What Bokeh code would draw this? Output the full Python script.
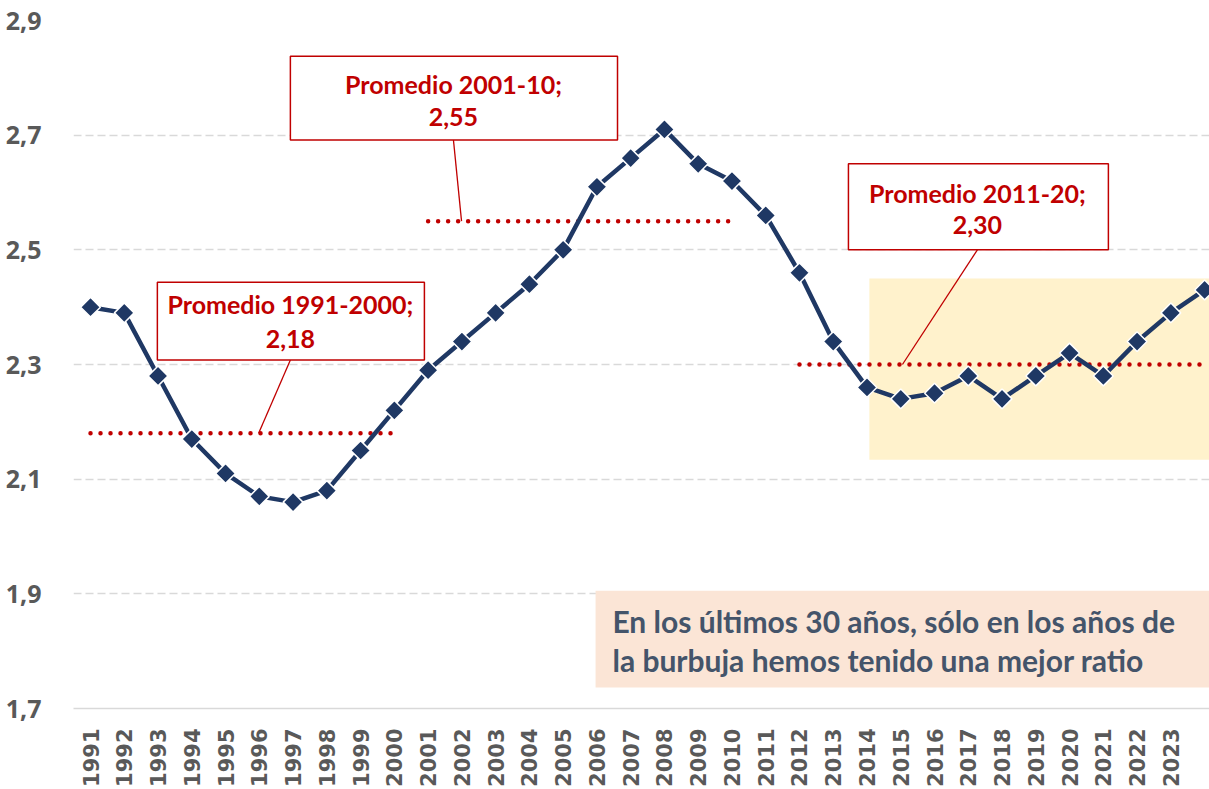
import numpy as np
from bokeh.plotting import figure
from bokeh.models import (Range1d, FixedTicker, CustomJSTickFormatter, BoxAnnotation,
                          Label, ColumnDataSource)
from bokeh.embed import file_html
from bokeh.resources import INLINE

# ---- data ----
years = list(range(1991, 2025))
ratio = [2.40, 2.39, 2.28, 2.17, 2.11, 2.07, 2.06, 2.08, 2.15, 2.22,
         2.29, 2.34, 2.39, 2.44, 2.50, 2.61, 2.66, 2.71, 2.65, 2.62,
         2.56, 2.46, 2.34, 2.26, 2.24, 2.25, 2.28, 2.24, 2.28, 2.32,
         2.28, 2.34, 2.39, 2.43]
x_tick_years = list(range(1991, 2024))
y_ticks = [1.7, 1.9, 2.1, 2.3, 2.5, 2.7, 2.9]

avg_labels = ["Promedio 1991-2000;", "Promedio 2001-10;", "Promedio 2011-20;"]
avg_values = [2.18, 2.55, 2.30]
avg_value_text = ["2,18", "2,55", "2,30"]
avg_start = [1991, 2001, 2012]
avg_end = [2000, 2010, 2024]

note_lines = ["En los últimos 30 años, sólo en los años de",
              "la burbuja hemos tenido una mejor ratio"]

RED = "#C00000"
NAVY = "#1F3864"
GRAY = "#595959"
FONT = "Lato"

p = figure(width=1209, height=789, output_backend="svg", toolbar_location=None,
           x_range=Range1d(1990.496, 2024.145), y_range=Range1d(1.7, 2.9),
           min_border_left=73, min_border_right=0, min_border_top=20,
           min_border_bottom=78)
p.outline_line_color = None
p.background_fill_color = "white"

# axes
p.xaxis.ticker = FixedTicker(ticks=x_tick_years)
p.xaxis.major_label_orientation = np.pi / 2
p.xaxis.major_label_text_font = "DejaVu Sans"
p.xaxis.major_label_text_font_style = "bold"
p.xaxis.major_label_text_font_size = "21px"
p.xaxis.major_label_text_color = GRAY
p.xaxis.major_label_standoff = 14
p.xaxis.major_tick_line_color = None
p.xaxis.minor_tick_line_color = None
p.xaxis.axis_line_color = "#D9D9D9"
p.xaxis.axis_line_width = 1.5

p.yaxis.ticker = FixedTicker(ticks=y_ticks)
p.yaxis.formatter = CustomJSTickFormatter(code="return tick.toFixed(1).replace('.', ',');")
p.yaxis.major_label_text_font = "Open Sans"
p.yaxis.major_label_text_font_style = "bold"
p.yaxis.major_label_text_font_size = "25px"
p.yaxis.major_label_text_color = GRAY
p.yaxis.major_label_standoff = 26
p.yaxis.major_tick_line_color = None
p.yaxis.minor_tick_line_color = None
p.yaxis.axis_line_color = None

p.xgrid.grid_line_color = None
p.ygrid.grid_line_color = "#D9D9D9"
p.ygrid.grid_line_dash = "8 4"
p.ygrid.grid_line_width = 1.5

# shaded region
p.add_layout(BoxAnnotation(left=2014.07, right=2025, bottom=2.134, top=2.45,
                           fill_color="#FFF2CC", fill_alpha=1, line_color=None,
                           level="underlay"))
# note box
p.add_layout(BoxAnnotation(left=2005.96, right=2025, bottom=1.7368, top=1.9052,
                           fill_color="#FBE5D6", fill_alpha=1, line_color=None,
                           level="underlay"))

# average lines
p.segment(x0=avg_start, x1=avg_end, y0=avg_values, y1=avg_values,
          line_color=RED, line_width=4.5, line_dash="0 10", line_cap="round")

# connectors
conn_x0 = [1996.92, 2001.75, 2017.27]
conn_y0 = [2.308, 2.6917, 2.50]
conn_x1 = [1995.98, 2001.99, 2015.05]
p.segment(x0=conn_x0, y0=conn_y0, x1=conn_x1, y1=avg_values,
          line_color=RED, line_width=1.3)

# series
src = ColumnDataSource(dict(x=years, y=ratio))
p.line("x", "y", source=src, line_color=NAVY, line_width=4.5)
p.scatter("x", "y", source=src, marker="square", size=14, angle=np.pi / 4,
          fill_color=NAVY, line_color="white", line_width=1.5)

# annotation boxes
boxes = [(1992.98, 2000.89, 2.308, 2.4434),
         (1996.92, 2006.61, 2.6917, 2.8375),
         (2013.45, 2021.15, 2.50, 2.65)]
line1_y = [2.4052, 2.7889, 2.5997]
line2_y = [2.3444, 2.7316, 2.5441]
centers = [1996.92, 2001.75, 2017.27]
for (l, r, b, t), lab, vt, y1, y2, cx in zip(boxes, avg_labels, avg_value_text,
                                             line1_y, line2_y, centers):
    p.add_layout(BoxAnnotation(left=l, right=r, bottom=b, top=t,
                               fill_color="white", fill_alpha=1,
                               line_color=RED, line_alpha=1, line_width=1.5))
    for txt, yy in ((lab, y1), (vt, y2)):
        p.add_layout(Label(x=cx, y=yy, text=txt, text_align="center",
                           text_baseline="middle", text_font=FONT,
                           text_font_style="bold", text_font_size="25px",
                           text_color=RED))

for txt, yy in zip(note_lines, [1.8531, 1.7854]):
    p.add_layout(Label(x=2006.46, y=yy, text=txt, text_align="left",
                       text_baseline="middle", text_font=FONT,
                       text_font_style="bold", text_font_size="30px",
                       text_color="#44546A"))

open("out.html", "w").write(file_html(p, INLINE))
